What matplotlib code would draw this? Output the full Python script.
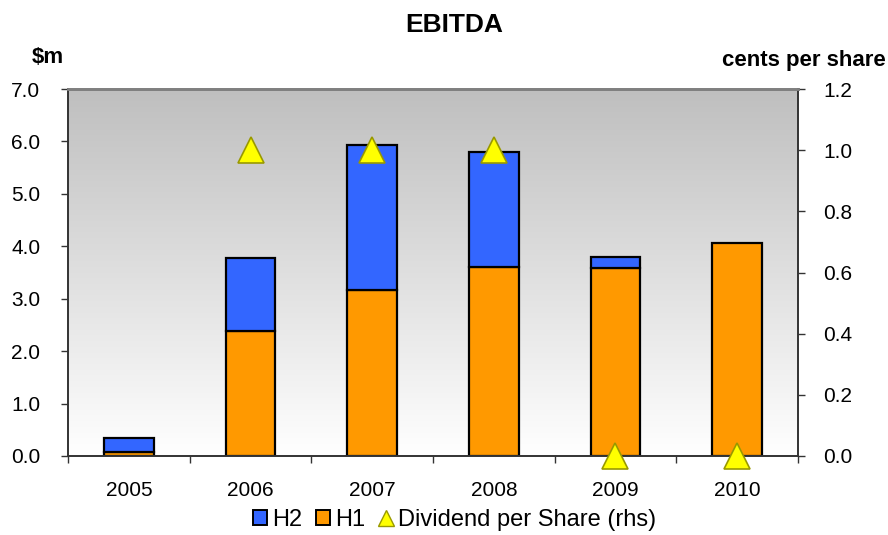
import numpy as np
import matplotlib
matplotlib.use("Agg")
import matplotlib.pyplot as plt
from matplotlib.colors import LinearSegmentedColormap
from matplotlib.patches import Patch
from matplotlib.lines import Line2D

plt.rcParams['font.family'] = ['Liberation Sans', 'DejaVu Sans']

years = ["2005", "2006", "2007", "2008", "2009", "2010"]
h1 = [0.07, 2.39, 3.17, 3.61, 3.59, 4.06]
h2 = [0.28, 1.39, 2.77, 2.19, 0.21, 0.0]
dividend = [np.nan, 1.0, 1.0, 1.0, 0.0, 0.0]

fig = plt.figure(figsize=(8.88, 5.35), dpi=100)
ax = fig.add_axes([0.0766, 0.1477, 0.8220, 0.6859])
ax2 = ax.twinx()

x = np.arange(len(years))
ax.set_xlim(-0.5, len(years) - 0.5)
ax.set_ylim(0, 7)

# vertical grey-to-white background gradient
grad = np.linspace(0, 1, 256).reshape(-1, 1)
cmap = LinearSegmentedColormap.from_list("bg", ["#ffffff", "#bfbfbf"])
ax.imshow(grad, aspect="auto", cmap=cmap, origin="lower",
          extent=[-0.5, len(years) - 0.5, 0, 7], zorder=0)

w = 0.41
ax.bar(x, h1, w, color="#ff9900", edgecolor="black", linewidth=1.6, zorder=2, label="H1")
nz = [i for i, v in enumerate(h2) if v > 0]
ax.bar(x[nz], [h2[i] for i in nz], w, bottom=[h1[i] for i in nz], color="#3366ff",
       edgecolor="black", linewidth=1.6, zorder=2, label="H2")

ax2.set_ylim(0, 1.2)
ax2.plot(x, dividend, linestyle="none", marker="^", markersize=19,
         markerfacecolor="#ffff00", markeredgecolor="#999900", markeredgewidth=1.2,
         clip_on=False, zorder=5, label="Dividend per Share (rhs)")

ax.set_yticks(np.arange(0, 7.01, 1.0))
ax.set_yticklabels([f"{v:.1f}" for v in np.arange(0, 7.01, 1.0)])
ax2.set_yticks(np.arange(0, 1.21, 0.2))
ax2.set_yticklabels([f"{v:.1f}" for v in np.arange(0, 1.21, 0.2)])

ax.set_xticks(x)
ax.set_xticklabels(years)
ax.set_xticks(np.arange(-0.5, len(years), 1.0), minor=True)
ax.tick_params(axis="x", which="major", length=0, labelsize=15, pad=18)
ax.tick_params(axis="x", which="minor", length=5, width=1, color="#333333")
ax.tick_params(axis="y", length=5, width=1, labelsize=15, color="#333333", pad=15)
ax2.tick_params(axis="y", length=5, width=1, labelsize=15, color="#333333", pad=13)

for a in (ax, ax2):
    for s in a.spines.values():
        s.set_color("#333333")
        s.set_linewidth(1.2)
    a.spines["top"].set_color("#808080")
    a.spines["top"].set_linewidth(2)

fig.text(0.512, 0.953, "EBITDA", ha="center", va="center", fontsize=19, fontweight="bold")
fig.text(0.054, 0.892, "$m", ha="center", va="center", fontsize=16, fontweight="bold")
fig.text(0.905, 0.887, "cents per share", ha="center", va="center", fontsize=16, fontweight="bold")

handles = [
    Patch(facecolor="#3366ff", edgecolor="black", linewidth=1.4, label="H2"),
    Patch(facecolor="#ff9900", edgecolor="black", linewidth=1.4, label="H1"),
    Line2D([], [], linestyle="none", marker="^", markersize=12, markerfacecolor="#ffff00",
           markeredgecolor="#999900", label="Dividend per Share (rhs)"),
]
fig.legend(handles=handles, loc="center", bbox_to_anchor=(0.512, 0.028), ncol=3,
           frameon=False, fontsize=17, handlelength=0.6, handleheight=0.6,
           handletextpad=0.2, columnspacing=0.6)

fig.savefig("out.png", dpi=100)
